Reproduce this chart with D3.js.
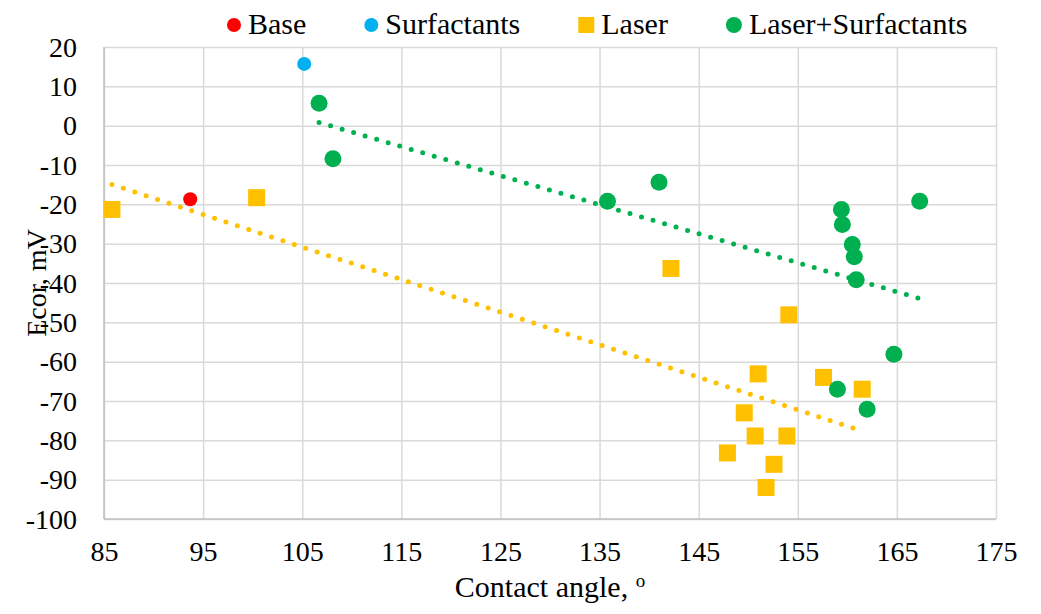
<!DOCTYPE html>
<html>
<head>
<meta charset="utf-8">
<title>Ecor vs contact angle</title>
<script src="https://cdn.jsdelivr.net/npm/d3@7/dist/d3.min.js"></script>
<style>
  body { margin:0; background:#fff; }
  svg { display:block; background:#fff; }
  text { font-family:"Liberation Serif","Times New Roman",serif; fill:#000; }
</style>
</head>
<body>
<script>
// data
var xTicks = [85, 95, 105, 115, 125, 135, 145, 155, 165, 175];
var yTicks = [-100, -90, -80, -70, -60, -50, -40, -30, -20, -10, 0, 10, 20];

var baseX = [93.7];
var baseY = [-18.7];

var surfX = [105.2];
var surfY = [15.7];

var laserX = [85.8, 100.4, 142.2, 154.1, 151.0, 157.6, 161.5, 149.6, 150.7, 153.9, 147.9, 152.6, 151.8];
var laserY = [-21.3, -18.3, -36.3, -48.1, -63.1, -64.0, -67.0, -73.0, -78.9, -78.9, -83.2, -86.1, -92.0];

var lsX = [106.7, 108.1, 135.8, 141.0, 167.3, 159.4, 159.5, 160.5, 160.7, 160.9, 164.7, 159.0, 162.0];
var lsY = [5.7, -8.4, -19.2, -14.4, -19.2, -21.3, -25.1, -30.2, -33.3, -39.2, -58.1, -67.0, -72.1];

var seriesNames = ["Base", "Surfactants", "Laser", "Laser+Surfactants"];

var W = 1041, H = 614;
var m = {left:104, right:45, top:47, bottom:95};
var pw = W - m.left - m.right, ph = H - m.top - m.bottom;

var svg = d3.select("body").append("svg").attr("width", W).attr("height", H);

var x = d3.scaleLinear().domain([85, 175]).range([0, pw]);
var y = d3.scaleLinear().domain([-100, 20]).range([ph, 0]);

var g = svg.append("g").attr("transform", "translate(" + m.left + "," + m.top + ")");

// plain hyphen for negatives, like the original
var fmt = function (d) { return String(d); };

// gridlines + tick labels
var gx = g.append("g").attr("transform", "translate(0," + ph + ")")
  .call(d3.axisBottom(x).tickValues(xTicks).tickSize(-ph).tickPadding(22).tickFormat(fmt));
var gy = g.append("g")
  .call(d3.axisLeft(y).tickValues(yTicks).tickSize(-pw).tickPadding(27).tickFormat(fmt));

[gx, gy].forEach(function (a) {
  a.select(".domain").remove();
  a.selectAll("line").attr("stroke", "#d9d9d9").attr("stroke-width", 1.5);
  a.selectAll("text").attr("font-size", 28).attr("fill", "#000");
});
gy.selectAll("text").attr("dy", "0.33em");

// axis lines
g.append("line").attr("x1", 0).attr("x2", 0).attr("y1", 0).attr("y2", ph)
  .attr("stroke", "#bfbfbf").attr("stroke-width", 1.5);
g.append("line").attr("x1", 0).attr("x2", pw).attr("y1", ph).attr("y2", ph)
  .attr("stroke", "#bfbfbf").attr("stroke-width", 1.5);

// linear trendlines (least squares), from min x to max x
function fit(xs, ys) {
  var mx = d3.mean(xs), my = d3.mean(ys);
  var sxy = d3.sum(xs, function (v, i) { return (v - mx) * (ys[i] - my); });
  var sxx = d3.sum(xs, function (v) { return (v - mx) * (v - mx); });
  var b = sxy / sxx, a = my - b * mx;
  var ext = d3.extent(xs);
  return ext.map(function (v) { return [v, a + b * v]; });
}
var line = d3.line().x(function (d) { return x(d[0]); }).y(function (d) { return y(d[1]); });

[[laserX, laserY, "#ffc000"], [lsX, lsY, "#00b050"]].forEach(function (s) {
  g.append("path").attr("d", line(fit(s[0], s[1])))
    .attr("fill", "none").attr("stroke", s[2]).attr("stroke-width", 5)
    .attr("stroke-linecap", "round").attr("stroke-dasharray", "0 12");
});

// markers
function circles(xs, ys, color, r) {
  g.append("g").selectAll("circle").data(xs).enter().append("circle")
    .attr("cx", function (d) { return x(d); })
    .attr("cy", function (d, i) { return y(ys[i]); })
    .attr("r", r).attr("fill", color);
}
circles(baseX, baseY, "#ff0000", 7);
circles(surfX, surfY, "#00b0f0", 7);

var sq = 17;
g.append("g").selectAll("rect").data(laserX).enter().append("rect")
  .attr("x", function (d) { return x(d) - sq / 2; })
  .attr("y", function (d, i) { return y(laserY[i]) - sq / 2; })
  .attr("width", sq).attr("height", sq).attr("fill", "#ffc000");

circles(lsX, lsY, "#00b050", 8.5);

// legend
var legendItems = [
  {name: seriesNames[0], color: "#ff0000", shape: "circle", size: 14},
  {name: seriesNames[1], color: "#00b0f0", shape: "circle", size: 14},
  {name: seriesNames[2], color: "#ffc000", shape: "square", size: 16},
  {name: seriesNames[3], color: "#00b050", shape: "circle", size: 16}
];
var lg = svg.append("g");
var cx = 227, ly = 25;
legendItems.forEach(function (it) {
  if (it.shape === "circle") {
    lg.append("circle").attr("cx", cx + it.size / 2).attr("cy", ly).attr("r", it.size / 2).attr("fill", it.color);
  } else {
    lg.append("rect").attr("x", cx).attr("y", ly - it.size / 2).attr("width", it.size).attr("height", it.size).attr("fill", it.color);
  }
  cx += it.size + 7;
  var t = lg.append("text").attr("x", cx).attr("y", ly + 9).attr("font-size", 30).text(it.name);
  cx += t.node().getComputedTextLength() + 58;
});

// axis titles
var xt = svg.append("text").attr("x", m.left + pw / 2).attr("y", 597)
  .attr("text-anchor", "middle").attr("font-size", 30);
xt.append("tspan").text("Contact angle, ");
xt.append("tspan").attr("font-size", 19).attr("dy", -10).text("o");

svg.append("text").attr("transform", "translate(46,283) rotate(-90)")
  .attr("text-anchor", "middle").attr("font-size", 28).text("Ecor, mV");
</script>
</body>
</html>
